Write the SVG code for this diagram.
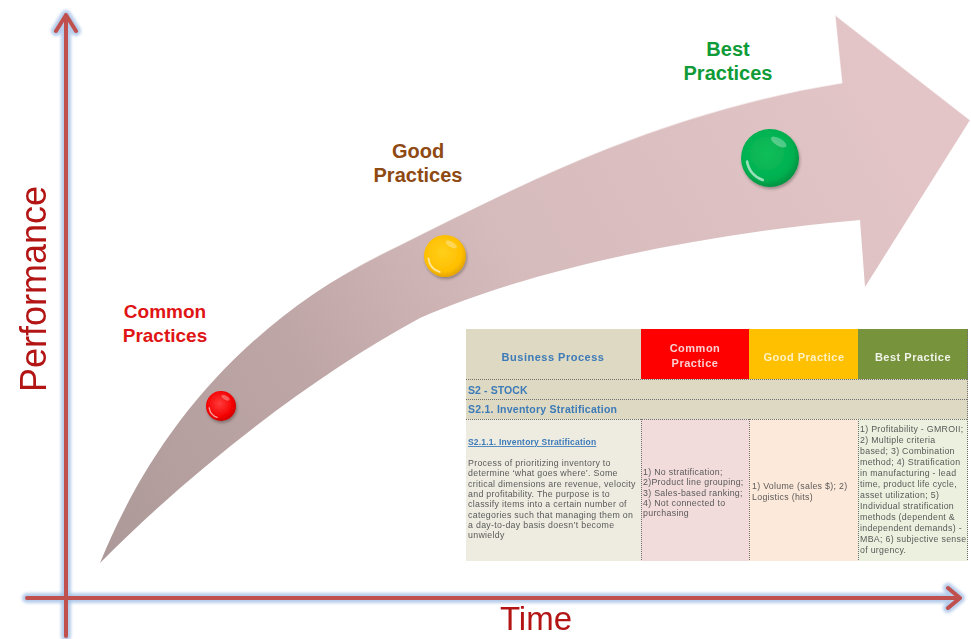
<svg xmlns="http://www.w3.org/2000/svg" xmlns:xlink="http://www.w3.org/1999/xlink" width="971" height="639" viewBox="0 0 971 639">
  <style>
    .lbl { font-family: "Liberation Sans", Arial, sans-serif; font-weight: bold; text-anchor: middle; }
    .axis-title { font-family: "Liberation Sans", Arial, sans-serif; fill: #b31414; text-anchor: middle; }
    .axis-glow { fill: none; stroke: #a3bfe6; stroke-width: 10; stroke-linecap: round; stroke-linejoin: round; opacity: 0.8; }
    .axis-line { fill: none; stroke: #c0504d; stroke-width: 4; stroke-linecap: round; stroke-linejoin: round; }
    .hdr { font-family: "Liberation Sans", Arial, sans-serif; font-weight: bold; font-size: 11px; letter-spacing: 0.5px; text-anchor: middle; }
    .sec { font-family: "Liberation Sans", Arial, sans-serif; font-weight: bold; font-size: 10.5px; fill: #3c7ab8; }
    .body { font-family: "Liberation Sans", Arial, sans-serif; font-size: 8.8px; letter-spacing: 0.3px; fill: #595959; }
    .sub { font-family: "Liberation Sans", Arial, sans-serif; font-weight: bold; font-size: 8.5px; letter-spacing: 0.2px; fill: #3c7ab8; text-decoration: underline; }
    .grid { stroke: #6f6f6f; stroke-width: 1; stroke-dasharray: 1 1; fill: none; }
  </style>
  <defs>
    <linearGradient id="bodyFill" gradientUnits="userSpaceOnUse" x1="100" y1="563" x2="900" y2="110">
      <stop offset="0" stop-color="#ad9999"/>
      <stop offset="0.3" stop-color="#bfa6a6"/>
      <stop offset="0.55" stop-color="#d6bbbc"/>
      <stop offset="1" stop-color="#e3c5c7"/>
    </linearGradient>
    <radialGradient id="gRed" cx="0.45" cy="0.42" r="0.6">
      <stop offset="0" stop-color="#ff3b3b"/>
      <stop offset="0.75" stop-color="#f40000"/>
      <stop offset="1" stop-color="#c80000"/>
    </radialGradient>
    <radialGradient id="gYellow" cx="0.45" cy="0.42" r="0.6">
      <stop offset="0" stop-color="#ffcf1a"/>
      <stop offset="0.75" stop-color="#ffbf00"/>
      <stop offset="1" stop-color="#e0a000"/>
    </radialGradient>
    <radialGradient id="gGreen" cx="0.45" cy="0.42" r="0.6">
      <stop offset="0" stop-color="#12be5a"/>
      <stop offset="0.75" stop-color="#00b050"/>
      <stop offset="1" stop-color="#008f3e"/>
    </radialGradient>
    <filter id="dotShadow" x="-30%" y="-30%" width="170%" height="170%">
      <feDropShadow dx="1" dy="2" stdDeviation="1.5" flood-color="#000" flood-opacity="0.3"/>
    </filter>
    <filter id="soft" x="-5%" y="-5%" width="110%" height="110%">
      <feGaussianBlur stdDeviation="1.6"/>
    </filter>
    <!-- glossy rim highlight on a unit circle -->
    <g id="gloss">
      <path d="M-0.25,0.76 A0.8,0.8 0 0 1 -0.79,0.12" fill="none" stroke="#fff" stroke-width="0.09" stroke-linecap="round" opacity="0.6"/>
      <ellipse cx="0.3" cy="-0.55" rx="0.3" ry="0.13" transform="rotate(30 0.3 -0.55)" fill="#fff" opacity="0.3"/>
    </g>
  </defs>

  <rect width="971" height="639" fill="#fff"/>

  <!-- curved progress arrow -->
  <g id="progress-arrow">
    <path d="M100,563 C150,440 240,320 400,245 C520,185 660,112 842,83 L835,15 L970,120 L865,287 L860,220 C720,232 540,265 420,318 C320,372 200,462 100,563 Z" fill="url(#bodyFill)"/>
    <path d="M300,300 C330,282 360,264 400,245 C520,185 660,112 842,83 L835,15 L970,120" fill="none" stroke="#fff" stroke-width="1.2" opacity="0.55"/>
  </g>

  <!-- practice markers -->
  <g id="dot-common" transform="translate(221,406)">
    <circle r="15" fill="url(#gRed)" filter="url(#dotShadow)"/>
    <use xlink:href="#gloss" transform="scale(15)"/>
  </g>
  <g id="dot-good" transform="translate(445,256)">
    <circle r="21" fill="url(#gYellow)" filter="url(#dotShadow)"/>
    <use xlink:href="#gloss" transform="scale(21)"/>
  </g>
  <g id="dot-best" transform="translate(770,158)">
    <circle r="29" fill="url(#gGreen)" filter="url(#dotShadow)"/>
    <use xlink:href="#gloss" transform="scale(29)"/>
  </g>

  <!-- stage labels -->
  <g id="label-common" class="lbl" style="fill:#e01414; font-size:19px">
    <text x="165" y="318">Common</text>
    <text x="165" y="342">Practices</text>
  </g>
  <g id="label-good" class="lbl" style="fill:#8e4a12; font-size:20px">
    <text x="418" y="158">Good</text>
    <text x="418" y="182">Practices</text>
  </g>
  <g id="label-best" class="lbl" style="fill:#0f9b37; font-size:20px">
    <text x="728" y="56">Best</text>
    <text x="728" y="80">Practices</text>
  </g>

  <!-- axes -->
  <g id="axes">
    <g filter="url(#soft)">
      <path class="axis-glow" d="M66,636 L66,15 M56,31 L66,15 L76,31"/>
      <path class="axis-glow" d="M27,598 L960,598 M948,588 L960,598 L948,608"/>
    </g>
    <path class="axis-line" d="M66,636 L66,15 M56,31 L66,15 L76,31"/>
    <path class="axis-line" d="M27,598 L960,598 M948,588 L960,598 L948,608"/>
  </g>
  <text class="axis-title" x="46" y="289" style="font-size:36px" transform="rotate(-90 46 289)">Performance</text>
  <text class="axis-title" x="536" y="630" style="font-size:33px">Time</text>

  <!-- stock stratification table -->
  <g id="table">
    <rect x="466" y="329" width="175" height="50" fill="#ddd9c3"/>
    <rect x="641" y="329" width="108" height="50" fill="#ff0000"/>
    <rect x="749" y="329" width="109" height="50" fill="#ffc000"/>
    <rect x="858" y="329" width="110" height="50" fill="#77933c"/>
    <rect x="466" y="379" width="502" height="40" fill="#ddd9c3"/>
    <rect x="466" y="419" width="175" height="142" fill="#eeece1"/>
    <rect x="641" y="419" width="108" height="142" fill="#f2dcdb"/>
    <rect x="749" y="419" width="109" height="142" fill="#fde9d9"/>
    <rect x="858" y="419" width="110" height="142" fill="#ebf1de"/>

    <path class="grid" d="M466,379.5 H968 M466,399.5 H968 M466,419.5 H968 M641.5,419 V561 M749.5,419 V561 M858.5,419 V561 M967.5,329 V561"/>

    <text class="hdr" x="553" y="361" style="fill:#3c7ab8">Business Process</text>
    <text class="hdr" x="695" y="352" style="fill:#fbd0d0">Common</text>
    <text class="hdr" x="695" y="367" style="fill:#fbd0d0">Practice</text>
    <text class="hdr" x="804" y="361" style="fill:#fff1c4">Good Practice</text>
    <text class="hdr" x="913" y="361" style="fill:#f1f4ea">Best Practice</text>

    <text class="sec" x="468" y="394" style="letter-spacing:0.1px">S2 - STOCK</text>
    <text class="sec" x="468" y="413" style="letter-spacing:0.25px">S2.1. Inventory Stratification</text>

    <text class="sub" x="468" y="445">S2.1.1. Inventory Stratification</text>
    <text class="body">
      <tspan x="468" y="466">Process of prioritizing inventory to</tspan>
      <tspan x="468" y="476.3">determine ‘what goes where’. Some</tspan>
      <tspan x="468" y="486.6">critical dimensions are revenue, velocity</tspan>
      <tspan x="468" y="496.9">and profitability. The purpose is to</tspan>
      <tspan x="468" y="507.2">classify items into a certain number of</tspan>
      <tspan x="468" y="517.5">categories such that managing them on</tspan>
      <tspan x="468" y="527.8">a day-to-day basis doesn’t become</tspan>
      <tspan x="468" y="538.1">unwieldy</tspan>
    </text>

    <text class="body">
      <tspan x="643" y="475">1) No stratification;</tspan>
      <tspan x="643" y="485.3">2)Product line grouping;</tspan>
      <tspan x="643" y="495.6">3) Sales-based ranking;</tspan>
      <tspan x="643" y="505.9">4) Not connected to</tspan>
      <tspan x="643" y="516.2">purchasing</tspan>
    </text>

    <text class="body">
      <tspan x="752" y="489">1) Volume (sales $); 2)</tspan>
      <tspan x="752" y="499.5">Logistics (hits)</tspan>
    </text>

    <text class="body">
      <tspan x="860" y="432">1) Profitability - GMROII;</tspan>
      <tspan x="860" y="443">2) Multiple criteria</tspan>
      <tspan x="860" y="454">based; 3) Combination</tspan>
      <tspan x="860" y="465">method; 4) Stratification</tspan>
      <tspan x="860" y="476">in manufacturing - lead</tspan>
      <tspan x="860" y="487">time, product life cycle,</tspan>
      <tspan x="860" y="498">asset utilization; 5)</tspan>
      <tspan x="860" y="509">Individual stratification</tspan>
      <tspan x="860" y="520">methods (dependent &amp;</tspan>
      <tspan x="860" y="531">independent demands) -</tspan>
      <tspan x="860" y="542">MBA; 6) subjective sense</tspan>
      <tspan x="860" y="553">of urgency.</tspan>
    </text>
  </g>
</svg>
